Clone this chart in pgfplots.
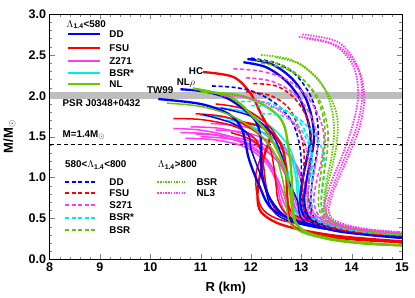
\documentclass[border=0pt]{standalone}
\usepackage{pgfplots}
\pgfplotsset{compat=1.18}
\usepackage{fontspec}
\setmainfont{Liberation Sans}
\definecolor{cB}{RGB}{0,0,255}
\definecolor{cR}{RGB}{255,0,0}
\definecolor{cM}{RGB}{255,60,240}
\definecolor{cC}{RGB}{0,235,235}
\definecolor{cG}{RGB}{100,200,0}
\definecolor{band}{RGB}{190,190,190}
\pgfplotsset{
  sol/.style={line width=1.5pt, smooth, tension=0.55, no markers},
  solT/.style={line width=2.3pt, smooth, tension=0.55, no markers},
  dsh/.style={line width=1.6pt, dash pattern=on 4pt off 2.5pt, smooth, tension=0.55, no markers},
  dot/.style={line width=1.8pt, dash pattern=on 1.5pt off 1.2pt, smooth, tension=0.55, no markers},
}
\newcommand{\lf}{\fontsize{9.8}{11}\selectfont\bfseries}
\begin{document}
\begin{tikzpicture}
\begin{axis}[name=ax, scale only axis, width=352pt, height=245pt,
  xmin=8, xmax=15, ymin=0, ymax=3,
  xtick={8,9,...,15}, ytick={0,0.5,...,3},
  minor x tick num=4, minor y tick num=4,
  tick align=inside, major tick length=5pt, minor tick length=2.5pt,
  /pgf/number format/assume math mode=true,
  yticklabel style={/pgf/number format/.cd, fixed, fixed zerofill, precision=1},
  tick label style={font=\fontsize{12.5}{14}\selectfont\bfseries},
  label style={font=\fontsize{13}{15}\selectfont\bfseries},
  xlabel={R (km)}, ylabel={M/M\textsubscript{$\odot$}},
  xlabel style={at={(axis description cs:0.5,-0.117)}, anchor=center},
  ylabel style={at={(axis description cs:-0.114,0.5)}, anchor=center},
  clip=true]
% band and reference line
\fill[band] (axis cs:8,1.96) rectangle (axis cs:15,2.05);
\draw[black, line width=1.3pt, dash pattern=on 4pt off 3pt] (axis cs:8,1.4) -- (axis cs:15,1.4);
%%%%% SOLID: Lambda<580
% magenta Z271
\addplot[sol, cM] coordinates {(10.46,1.60) (11.0,1.58) (11.6,1.50) (12.1,1.35) (12.4,1.15) (12.55,0.9) (12.65,0.7) (12.85,0.52) (13.4,0.41) (14.2,0.33) (15,0.29)};
\addplot[sol, cM] coordinates {(10.6,1.55) (11.2,1.53) (11.8,1.43) (12.25,1.25) (12.5,1.02) (12.65,0.8) (12.75,0.62) (13.0,0.48) (13.6,0.39) (14.3,0.33) (15,0.29)};
\addplot[sol, cM] coordinates {(10.8,1.62) (11.4,1.60) (12.0,1.50) (12.45,1.30) (12.7,1.05) (12.8,0.8) (12.9,0.6) (13.15,0.47) (13.7,0.38) (14.4,0.32) (15,0.29)};
\addplot[sol, cM] coordinates {(11.0,1.50) (11.6,1.47) (12.2,1.36) (12.6,1.15) (12.8,0.9) (12.9,0.68) (13.05,0.52) (13.5,0.41) (14.2,0.34) (15,0.30)};
\addplot[sol, cM] coordinates {(11.2,1.66) (11.8,1.63) (12.35,1.52) (12.75,1.3) (12.95,1.05) (13.05,0.8) (13.1,0.6) (13.35,0.46) (13.9,0.38) (14.5,0.33) (15,0.30)};
\addplot[sol, cM] coordinates {(10.7,1.48) (11.3,1.46) (11.9,1.37) (12.3,1.18) (12.5,0.95) (12.58,0.72) (12.7,0.56) (13.0,0.45) (13.7,0.37) (14.4,0.32) (15,0.28)};
\addplot[sol, cM] coordinates {(11.3,1.58) (11.9,1.55) (12.45,1.42) (12.85,1.2) (13.05,0.95) (13.15,0.72) (13.3,0.53) (13.7,0.42) (14.3,0.35) (15,0.31)};
\addplot[sol, cM] coordinates {(10.9,1.53) (11.5,1.51) (12.1,1.42) (12.5,1.22) (12.72,0.98) (12.82,0.75) (12.95,0.56) (13.3,0.44) (13.9,0.37) (14.5,0.32) (15,0.30)};
% cyan BSR*
\addplot[sol, cC] coordinates {(10.99,1.76) (11.6,1.72) (12.1,1.6) (12.5,1.4) (12.7,1.15) (12.78,0.9) (12.82,0.68) (13.0,0.5) (13.5,0.4) (14.2,0.33) (15,0.29)};
\addplot[sol, cC] coordinates {(11.25,1.86) (11.9,1.8) (12.4,1.62) (12.75,1.38) (12.9,1.1) (12.95,0.85) (13.0,0.62) (13.2,0.48) (13.7,0.39) (14.4,0.33) (15,0.30)};
\addplot[sol, cC] coordinates {(11.5,1.7) (12.0,1.66) (12.45,1.52) (12.75,1.3) (12.88,1.05) (12.92,0.8) (12.98,0.6) (13.2,0.47) (13.8,0.38) (14.4,0.33) (15,0.30)};
% red FSU
\addplot[solT, cR] coordinates {(11.05,2.29) (11.65,2.23) (11.99,2.03) (12.19,1.79) (12.33,1.62) (12.38,1.49) (12.28,1.30) (12.17,1.0) (12.13,0.75) (12.2,0.58) (12.5,0.45) (13.0,0.36) (13.8,0.28) (15,0.22)};
\addplot[sol, cR] coordinates {(10.46,1.72) (11.0,1.71) (11.6,1.64) (12.0,1.52) (12.2,1.35) (12.25,1.15) (12.3,0.9) (12.4,0.7) (12.6,0.55) (13.2,0.42) (14,0.34) (15,0.29)};
\addplot[sol, cR] coordinates {(10.9,1.78) (11.5,1.74) (12.0,1.6) (12.35,1.4) (12.45,1.15) (12.5,0.9) (12.55,0.7) (12.75,0.53) (13.3,0.41) (14,0.34) (15,0.29)};
\addplot[sol, cR] coordinates {(11.3,1.9) (11.9,1.83) (12.4,1.6) (12.65,1.3) (12.7,1.0) (12.72,0.75) (12.85,0.55) (13.4,0.42) (14.2,0.34) (15,0.30)};
\addplot[sol, cR] coordinates {(11.6,1.55) (12.05,1.45) (12.2,1.3) (12.1,1.05) (12.12,0.8) (12.25,0.6) (12.6,0.48) (13.3,0.4) (14.1,0.33) (15,0.29)};
\addplot[solT, cR] coordinates {(11.8,1.68) (12.3,1.6) (12.6,1.4) (12.7,1.1) (12.72,0.8) (12.75,0.55) (12.85,0.4) (13.3,0.3) (14.1,0.24) (15,0.21)};
% blue DD
\addplot[solT, cB] coordinates {(10.16,1.96) (11.0,1.90) (11.55,1.78) (11.8,1.62) (11.88,1.45) (11.95,1.25) (12.05,1.07) (12.18,0.88) (12.32,0.69) (12.52,0.57) (13.0,0.45) (13.8,0.36) (15,0.29)};
\addplot[solT, cB] coordinates {(10.6,2.08) (11.1,2.05) (11.53,1.97) (11.93,1.80) (12.12,1.66) (12.2,1.45) (12.2,1.2) (12.25,0.95) (12.4,0.72) (12.7,0.52) (13.3,0.40) (14.1,0.32) (15,0.27)};
\addplot[sol, cB] coordinates {(11.05,1.77) (11.65,1.66) (11.95,1.52) (12.0,1.35) (12.15,1.1) (12.28,0.88) (12.38,0.66) (12.6,0.51) (13.2,0.40) (14,0.33) (15,0.28)};
\addplot[sol, cB] coordinates {(11.4,1.85) (12.0,1.75) (12.4,1.55) (12.62,1.25) (12.72,1.0) (12.92,0.72) (13.02,0.48) (13.5,0.37) (14.2,0.31) (15,0.27)};
\addplot[solT, cB] coordinates {(11.85,2.41) (12.3,2.35) (12.7,2.18) (12.98,1.95) (13.15,1.65) (13.18,1.46) (13.1,1.2) (13.02,0.95) (12.98,0.7) (13.1,0.5) (13.6,0.36) (14.3,0.3) (15,0.26)};
\addplot[solT, cB] coordinates {(11.93,2.45) (12.4,2.39) (12.8,2.22) (13.08,1.98) (13.22,1.7) (13.25,1.45) (13.18,1.2) (13.1,0.95) (13.06,0.7) (13.18,0.5) (13.7,0.37) (14.3,0.31) (15,0.27)};
% green NL
\addplot[solT, cG] coordinates {(10.85,2.09) (11.6,1.98) (12.05,1.74) (12.32,1.55) (12.55,1.3) (12.7,1.05) (12.78,0.8) (12.82,0.6) (12.88,0.45) (13.1,0.33) (13.6,0.24) (14.3,0.19) (15,0.17)};
\addplot[sol, cG] coordinates {(10.33,1.91) (11.0,1.87) (11.6,1.76) (12.1,1.57) (12.45,1.32) (12.6,1.05) (12.68,0.8) (12.72,0.58) (12.8,0.42) (13.1,0.31) (13.7,0.23) (14.4,0.19) (15,0.17)};
\addplot[solT, cG] coordinates {(11.0,2.05) (11.8,2.0) (12.35,1.85) (12.65,1.65) (12.78,1.2) (12.82,0.88) (12.84,0.6) (12.9,0.44) (13.15,0.32) (13.8,0.23) (14.5,0.19) (15,0.17)};
%%%%% DASHED: 580<Lambda<800
\addplot[dsh, cB] coordinates {(11.23,2.12) (11.7,2.1) (12.1,2.04) (12.5,1.9) (12.8,1.7) (12.95,1.45) (13.0,1.2) (13.0,0.95) (13.02,0.7) (13.15,0.5) (13.6,0.38) (14.3,0.31) (15,0.28)};
\addplot[dsh, cB] coordinates {(12.0,2.46) (12.5,2.4) (12.9,2.25) (13.2,1.98) (13.32,1.7) (13.33,1.4) (13.25,1.1) (13.2,0.85) (13.2,0.6) (13.35,0.45) (13.8,0.36) (14.4,0.31) (15,0.28)};
\addplot[dsh, cR] coordinates {(12.05,2.15) (12.5,2.12) (12.85,1.98) (13.1,1.75) (13.2,1.5) (13.2,1.2) (13.15,0.95) (13.15,0.7) (13.25,0.5) (13.7,0.38) (14.3,0.32) (15,0.29)};
\addplot[dsh, cR] coordinates {(11.9,2.05) (12.4,2.0) (12.75,1.85) (12.95,1.6) (13.05,1.35) (13.05,1.1) (13.02,0.85) (13.05,0.62) (13.15,0.48) (13.6,0.38) (14.3,0.32) (15,0.29)};
\addplot[dsh, cM] coordinates {(11.65,2.33) (12.2,2.3) (12.7,2.2) (13.1,2.0) (13.35,1.75) (13.45,1.5) (13.4,1.2) (13.3,0.95) (13.25,0.7) (13.4,0.5) (13.9,0.38) (14.5,0.32) (15,0.3)};
\addplot[dsh, cM] coordinates {(11.9,2.22) (12.4,2.18) (12.85,2.03) (13.15,1.8) (13.3,1.55) (13.32,1.3) (13.25,1.05) (13.2,0.8) (13.22,0.6) (13.35,0.47) (13.8,0.38) (14.4,0.33) (15,0.30)};
\addplot[dsh, cC] coordinates {(11.8,1.93) (12.3,1.92) (12.75,1.8) (13.05,1.6) (13.2,1.35) (13.22,1.1) (13.2,0.85) (13.22,0.62) (13.35,0.48) (13.8,0.39) (14.4,0.33) (15,0.30)};
\addplot[dsh, cC] coordinates {(12.0,1.88) (12.5,1.85) (12.95,1.72) (13.3,1.5) (13.45,1.25) (13.45,1.0) (13.4,0.75) (13.42,0.55) (13.6,0.44) (14.1,0.36) (15,0.31)};
\addplot[dsh, cC] coordinates {(12.2,1.78) (12.6,1.76) (12.95,1.62) (13.15,1.4) (13.2,1.15) (13.15,0.9) (13.12,0.68) (13.22,0.5) (13.7,0.39) (14.3,0.33) (15,0.30)};
\addplot[dsh, cG] coordinates {(12.1,2.44) (12.6,2.38) (13.0,2.22) (13.3,1.98) (13.45,1.7) (13.47,1.4) (13.4,1.1) (13.35,0.85) (13.35,0.62) (13.5,0.47) (13.9,0.38) (14.5,0.32) (15,0.30)};
\addplot[dsh, cG] coordinates {(12.2,2.40) (12.7,2.33) (13.1,2.16) (13.38,1.92) (13.52,1.62) (13.52,1.35) (13.45,1.05) (13.4,0.8) (13.42,0.6) (13.6,0.46) (14.0,0.38) (14.5,0.33) (15,0.31)};
%%%%% DOTTED: Lambda>800
\addplot[dot, cG] coordinates {(12.2,2.5) (12.8,2.44) (13.25,2.25) (13.6,1.95) (13.72,1.7) (13.7,1.4) (13.6,1.1) (13.5,0.85) (13.48,0.62) (13.6,0.48) (14.0,0.39) (14.5,0.34) (15,0.31)};
\addplot[dot, cG] coordinates {(12.5,2.47) (13.0,2.38) (13.4,2.15) (13.6,1.85) (13.65,1.55) (13.6,1.25) (13.5,0.95) (13.45,0.7) (13.5,0.52) (13.8,0.41) (14.3,0.35) (15,0.31)};
\addplot[dot, cM] coordinates {(13.02,2.75) (13.72,2.66) (14.11,2.37) (14.21,2.01) (14.11,1.64) (13.9,1.3) (13.7,1.0) (13.55,0.75) (13.5,0.55) (13.7,0.44) (14.2,0.37) (15,0.33)};
\addplot[dot, cM] coordinates {(12.95,2.72) (13.6,2.64) (14.02,2.38) (14.13,2.02) (14.02,1.64) (13.82,1.28) (13.62,0.98) (13.48,0.72) (13.45,0.53) (13.65,0.43) (14.2,0.36) (15,0.32)};
\addplot[dot, cM] coordinates {(13.1,2.70) (13.75,2.60) (14.15,2.30) (14.25,1.95) (14.15,1.6) (13.95,1.28) (13.75,1.0) (13.6,0.76) (13.55,0.56) (13.75,0.45) (14.3,0.37) (15,0.33)};
\addplot[dot, cM] coordinates {(11.4,2.0) (11.9,1.98) (12.4,1.88) (12.8,1.7) (13.05,1.45) (13.15,1.2) (13.15,0.95) (13.12,0.72) (13.2,0.53) (13.6,0.42) (14.2,0.36) (15,0.32)};
%%%%% annotations
\node[font=\lf] at (axis cs:10.2,2.07) {TW99};
\node[font=\lf] at (axis cs:10.71,2.16) {NL$\rho$};
\node[font=\lf] at (axis cs:10.91,2.30) {HC};
\node[font=\lf, anchor=west] at (axis cs:8.19,1.91) {PSR J0348+0432};
\node[font=\lf, anchor=west] at (axis cs:8.19,1.52) {M=1.4M\textsubscript{$\odot$}};
% legend group 1
\node[font=\lf, anchor=west] at (axis cs:8.27,2.87) {$\Lambda$\textsubscript{1.4}<580};
\draw[cB, line width=2pt] (axis cs:8.37,2.75) -- (axis cs:9.0,2.75);
\node[font=\lf, anchor=west] at (axis cs:9.12,2.75) {DD};
\draw[cR, line width=2pt] (axis cs:8.37,2.58) -- (axis cs:9.0,2.58);
\node[font=\lf, anchor=west] at (axis cs:9.12,2.58) {FSU};
\draw[cM, line width=2pt] (axis cs:8.37,2.42) -- (axis cs:9.0,2.42);
\node[font=\lf, anchor=west] at (axis cs:9.12,2.42) {Z271};
\draw[cC, line width=2pt] (axis cs:8.37,2.28) -- (axis cs:9.0,2.28);
\node[font=\lf, anchor=west] at (axis cs:9.12,2.28) {BSR*};
\draw[cG, line width=2pt] (axis cs:8.37,2.14) -- (axis cs:9.0,2.14);
\node[font=\lf, anchor=west] at (axis cs:9.12,2.14) {NL};
% legend group 2
\node[font=\lf, anchor=west] at (axis cs:8.24,1.15) {580<$\Lambda$\textsubscript{1.4}<800};
\draw[cB, line width=2pt, dash pattern=on 4pt off 2.5pt] (axis cs:8.31,0.94) -- (axis cs:8.94,0.94);
\node[font=\lf, anchor=west] at (axis cs:9.12,0.94) {DD};
\draw[cR, line width=2pt, dash pattern=on 4pt off 2.5pt] (axis cs:8.31,0.81) -- (axis cs:8.94,0.81);
\node[font=\lf, anchor=west] at (axis cs:9.12,0.81) {FSU};
\draw[cM, line width=2pt, dash pattern=on 4pt off 2.5pt] (axis cs:8.31,0.66) -- (axis cs:8.94,0.66);
\node[font=\lf, anchor=west] at (axis cs:9.12,0.66) {S271};
\draw[cC, line width=2pt, dash pattern=on 4pt off 2.5pt] (axis cs:8.31,0.51) -- (axis cs:8.94,0.51);
\node[font=\lf, anchor=west] at (axis cs:9.12,0.51) {BSR*};
\draw[cG, line width=2pt, dash pattern=on 4pt off 2.5pt] (axis cs:8.31,0.36) -- (axis cs:8.94,0.36);
\node[font=\lf, anchor=west] at (axis cs:9.12,0.36) {BSR};
% legend group 3
\node[font=\lf, anchor=west] at (axis cs:10.08,1.15) {$\Lambda$\textsubscript{1.4}>800};
\draw[cG, line width=2pt, dash pattern=on 1.5pt off 1.2pt] (axis cs:10.14,0.94) -- (axis cs:10.69,0.94);
\node[font=\lf, anchor=west] at (axis cs:10.85,0.94) {BSR};
\draw[cM, line width=2pt, dash pattern=on 1.5pt off 1.2pt] (axis cs:10.14,0.81) -- (axis cs:10.69,0.81);
\node[font=\lf, anchor=west] at (axis cs:10.85,0.81) {NL3};
\end{axis}
\pgfresetboundingbox
\path[use as bounding box] ([xshift=-49.5pt,yshift=-38pt]ax.south west) rectangle ([xshift=13pt,yshift=14pt]ax.north east);
\end{tikzpicture}
\end{document}
